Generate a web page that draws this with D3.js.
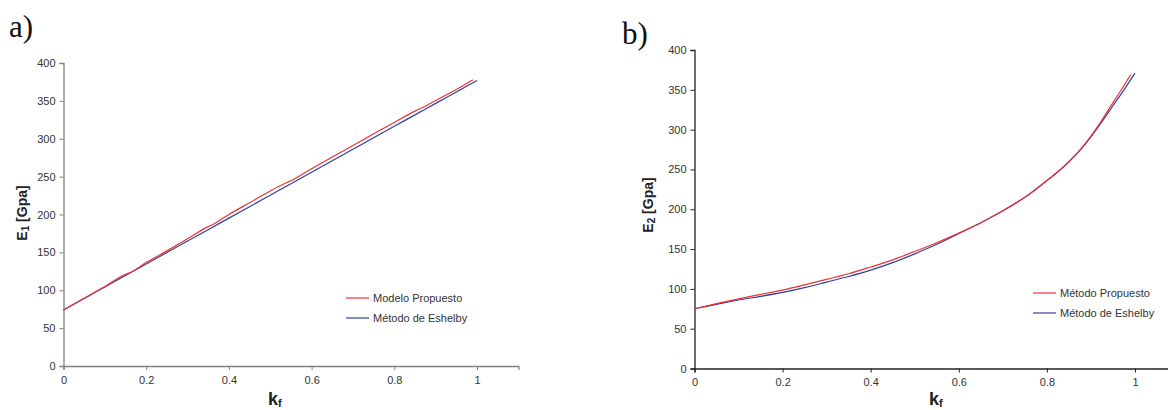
<!DOCTYPE html>
<html><head><meta charset="utf-8">
<script src="https://cdn.jsdelivr.net/npm/d3@7"></script>
<style>
body{margin:0;background:#fff;}
svg{display:block;font-family:"Liberation Sans",Arial,sans-serif;}
</style></head>
<body><svg id="c" width="1168" height="410"></svg>
<script>
// ---- data ----
const kA = [0,0.05,0.1,0.15,0.2,0.25,0.3,0.35,0.4,0.45,0.5,0.55,0.6,0.65,0.7,0.75,0.8,0.85,0.9,0.95,1];
const e1Eshelby = [74,89.2,104.3,119.5,134.6,149.8,164.9,180,195.2,210.3,225.5,240.7,255.8,271,286.1,301.2,316.4,331.5,346.7,361.8,377];
const kAred = [0,0.05,0.1,0.15,0.16,0.2,0.25,0.3,0.35,0.36,0.4,0.45,0.5,0.53,0.55,0.6,0.65,0.7,0.75,0.8,0.85,0.87,0.9,0.95,0.99];
const e1Propuesto = [74,89.5,105,121,123,136.5,152,168,184,186.5,200,215.5,231,239.5,244.5,260.5,276,291,306.5,321.5,336.5,341.5,350.5,365,378];
const kB = [0,0.05,0.1,0.15,0.2,0.25,0.3,0.35,0.4,0.45,0.5,0.55,0.6,0.65,0.7,0.75,0.8,0.825,0.85,0.875,0.9,0.925,0.95,0.975,1];
const e2Eshelby = [75,80.5,86,90.5,95.5,101.5,108.5,115.5,123.5,133,144,156,169.5,183,198,215,236,247,259.5,274,291,310,330,350,371];
const kBred = [0,0.05,0.1,0.15,0.2,0.25,0.3,0.35,0.4,0.45,0.5,0.55,0.6,0.65,0.7,0.75,0.8,0.825,0.85,0.875,0.9,0.925,0.95,0.97,0.99];
const e2Propuesto = [75,81.5,87.5,93,98.5,105,112,119,127.5,136.5,147,158,170,183,198,215,236,247,260,274.5,292,312,334,351,369];
const xTicks = [0,0.2,0.4,0.6,0.8,1];
const yTicks = [0,50,100,150,200,250,300,350,400];
const legendA = ["Modelo Propuesto","Método de Eshelby"];
const legendB = ["Método Propuesto","Método de Eshelby"];

const RED = "#f03030", BLUE = "#3040a0";
const FONT = "'Liberation Sans', Arial, sans-serif";
const svg = d3.select("#c");

function panel(o){
  const x = d3.scaleLinear().domain([0,1.1]).range([o.x0, o.x0 + (o.x1-o.x0)*1.1]);
  const y = d3.scaleLinear().domain([0,400]).range([o.y0, o.y1]);
  const g = svg.append("g");
  const xa = g.append("g").attr("transform",`translate(0,${o.y0})`)
    .call(d3.axisBottom(x).tickValues(xTicks).tickSize(4).tickPadding(6).tickFormat(d=>d3.format("")(d)));
  const ya = g.append("g").attr("transform",`translate(${o.x0},0)`)
    .call(d3.axisLeft(y).tickValues(yTicks).tickSize(4).tickPadding(4));
  [xa,ya].forEach(a=>{
    a.attr("font-family",FONT).attr("font-size",11);
    a.select(".domain").attr("stroke",o.axisColor).attr("stroke-width",1.3);
    a.selectAll(".tick line").attr("stroke",o.axisColor);
    a.selectAll(".tick text").attr("fill","#333");
  });
  const line = d3.line().x(d=>x(d[0])).y(d=>y(d[1])).curve(d3.curveMonotoneX);
  g.append("path").datum(o.k2.map((k,i)=>[k,o.v2[i]])).attr("d",line)
    .attr("fill","none").attr("stroke",BLUE).attr("stroke-width",1.2);
  g.append("path").datum(o.k1.map((k,i)=>[k,o.v1[i]])).attr("d",line)
    .attr("fill","none").attr("stroke",RED).attr("stroke-width",1.2);
  o.legend.forEach((t,i)=>{
    const ly = o.ly + i*20;
    g.append("line").attr("x1",o.lx).attr("x2",o.lx+23).attr("y1",ly).attr("y2",ly)
      .attr("stroke",i===0?RED:BLUE).attr("stroke-width",1.2);
    g.append("text").attr("x",o.lx+27).attr("y",ly+4).attr("font-size",11).attr("fill","#333").text(t);
  });
  const yt = g.append("text").attr("transform",`translate(${o.ytx},${o.yty}) rotate(-90)`)
    .attr("text-anchor","middle").attr("font-weight","bold").attr("font-size",14).attr("fill","#222");
  yt.append("tspan").text("E");
  yt.append("tspan").attr("font-size",10).attr("dy",2).text(o.sub);
  yt.append("tspan").attr("dy",-2).text(" [Gpa]");
  const xt = g.append("text").attr("x",o.xtx).attr("y",405).attr("font-weight","bold").attr("font-size",18).attr("fill","#222");
  xt.append("tspan").text("k");
  xt.append("tspan").attr("font-size",11).attr("dy",2).text("f");
  g.append("text").attr("x",o.px).attr("y",o.py).attr("font-family","'Liberation Serif','Times New Roman',serif")
    .attr("font-size",31).attr("fill","#111").text(o.plabel);
}

panel({x0:63.5,x1:477,y0:366,y1:63,axisColor:"#808080",k1:kAred,v1:e1Propuesto,k2:kA,v2:e1Eshelby,
  legend:legendA,lx:346,ly:298,ytx:27,yty:213,sub:"1",xtx:268,px:9,py:37,plabel:"a)"});
panel({x0:694.5,x1:1135,y0:368.5,y1:50,axisColor:"#222",k1:kBred,v1:e2Propuesto,k2:kB,v2:e2Eshelby,
  legend:legendB,lx:1033,ly:293,ytx:653,yty:205,sub:"2",xtx:929,px:622,py:44,plabel:"b)"});
</script></body></html>
